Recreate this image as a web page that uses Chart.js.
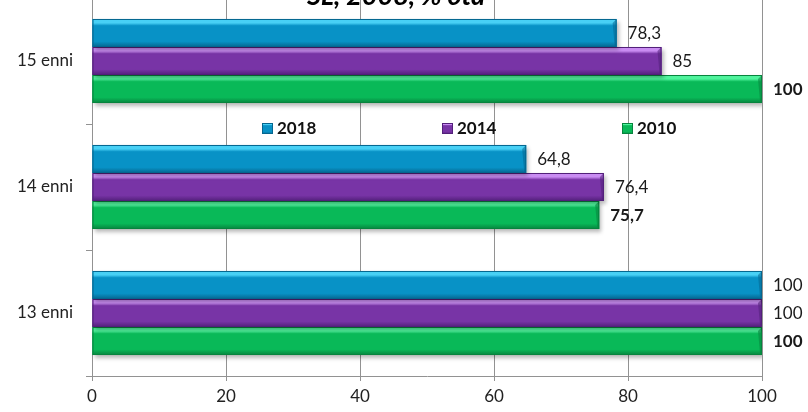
<!DOCTYPE html>
<html>
<head>
<meta charset="utf-8">
<script src="https://cdn.jsdelivr.net/npm/chart.js@4/dist/chart.umd.min.js"></script>
<style>
  html, body { margin: 0; padding: 0; background: #fff; overflow: hidden; }
  #wrap { position: relative; top: -10px; width: 808px; height: 422px; }
</style>
</head>
<body>
<div id="wrap"><canvas id="ageChart"></canvas></div>
<script>
const ages = ["15 enni", "14 enni", "13 enni"];
const years = ["2018", "2014", "2010"];
const values2018 = [78.3, 64.8, 100];
const values2014 = [85, 76.4, 100];
const values2010 = [100, 75.7, 100];
const xTicks = [0, 20, 40, 60, 80, 100];
const titleText = "SL, 2008, % ota";

// light / body / dark tones for the bevelled bars
const palette = [
  { light: "#48d0f5", base: "#0892c6", dark: "#05668f" },
  { light: "#c98cf2", base: "#7834a6", dark: "#52207a" },
  { light: "#4ff39c", base: "#09b958", dark: "#07843e" },
];

const fmt = (v) => String(v).replace(".", ",");
const FONT = "Lato, 'Open Sans', sans-serif";

const makeGradient = (ctx, top, bottom, c) => {
  const g = ctx.createLinearGradient(0, top, 0, bottom);
  g.addColorStop(0, c.light);
  g.addColorStop(0.14, c.light);
  g.addColorStop(0.24, c.base);
  g.addColorStop(0.8, c.base);
  g.addColorStop(1, c.dark);
  return g;
};

// soft shadow under the bars, then a bevel painted over each one
const bevelBars = {
  id: "bevelBars",
  beforeDatasetDraw(chart) {
    const ctx = chart.ctx;
    ctx.save();
    ctx.shadowColor = "rgba(0,0,0,0.28)";
    ctx.shadowBlur = 4;
    ctx.shadowOffsetX = 2;
    ctx.shadowOffsetY = 3;
  },
  afterDatasetDraw(chart, args) {
    const ctx = chart.ctx;
    ctx.restore();
    const c = palette[args.index];
    args.meta.data.forEach((bar) => {
      const p = bar.getProps(["x", "y", "base", "height"], true);
      const top = p.y - p.height / 2;
      const bottom = p.y + p.height / 2;
      const left = Math.min(p.base, p.x);
      const right = Math.max(p.base, p.x);
      ctx.save();
      ctx.fillStyle = makeGradient(ctx, top, bottom, c);
      ctx.fillRect(left, top, right - left, p.height);
      // end cap bevel
      ctx.fillStyle = c.dark;
      ctx.globalAlpha = 0.55;
      ctx.beginPath();
      ctx.moveTo(right - 4, top + 4);
      ctx.lineTo(right, top);
      ctx.lineTo(right, bottom);
      ctx.lineTo(right - 2, bottom - 2);
      ctx.closePath();
      ctx.fill();
      ctx.globalAlpha = 1;
      ctx.strokeStyle = c.dark;
      ctx.lineWidth = 1;
      ctx.strokeRect(left + 0.5, top + 0.5, right - left - 1, p.height - 1);
      ctx.restore();
    });
  },
};

// numbers printed at the end of each bar
const barValues = {
  id: "barValues",
  afterDatasetsDraw(chart) {
    const ctx = chart.ctx;
    ctx.save();
    ctx.textBaseline = "middle";
    ctx.textAlign = "left";
    ctx.fillStyle = "#1a1a1a";
    chart.data.datasets.forEach((ds, i) => {
      ctx.font = (ds.boldValues ? "bold " : "") + "17px " + FONT;
      chart.getDatasetMeta(i).data.forEach((bar, j) => {
        ctx.fillText(fmt(ds.data[j]), bar.x + 11, bar.y + 1);
      });
    });
    ctx.restore();
  },
};

// legend sits inside the plot, between the first two groups
const innerLegend = {
  id: "innerLegend",
  afterDatasetsDraw(chart) {
    const ctx = chart.ctx;
    const area = chart.chartArea;
    const yScale = chart.scales.y;
    const cy = (yScale.getPixelForValue(0) + yScale.getPixelForValue(1)) / 2 + 4;
    ctx.save();
    ctx.font = "bold 17px " + FONT;
    ctx.textBaseline = "middle";
    chart.data.datasets.forEach((ds, i) => {
      const x = area.left + 170 + i * 180;
      const c = palette[i];
      ctx.fillStyle = makeGradient(ctx, cy - 5, cy + 6, c);
      ctx.fillRect(x, cy - 5, 11, 11);
      ctx.strokeStyle = c.dark;
      ctx.strokeRect(x + 0.5, cy - 4.5, 10, 10);
      ctx.fillStyle = "#111";
      ctx.fillText(ds.label, x + 15, cy + 1);
    });
    ctx.restore();
  },
};

// heading that runs off the top edge
const topTitle = {
  id: "topTitle",
  afterDraw(chart) {
    const ctx = chart.ctx;
    ctx.save();
    ctx.font = "italic bold 27px " + FONT;
    ctx.textAlign = "center";
    ctx.textBaseline = "alphabetic";
    ctx.fillStyle = "#000";
    ctx.fillText(titleText, chart.width / 2 - 8, chart.chartArea.top + 7);
    ctx.restore();
  },
};

const seriesValues = [values2018, values2014, values2010];
const datasets = years.map((year, i) => ({
  label: year,
  data: seriesValues[i],
  backgroundColor: palette[i].base,
  borderWidth: 0,
  boldValues: year === "2010",
}));

new Chart(document.getElementById("ageChart"), {
  type: "bar",
  data: { labels: ages, datasets: datasets },
  options: {
    indexAxis: "y",
    responsive: true,
    maintainAspectRatio: false,
    animation: false,
    layout: { padding: { top: 8, right: 46, left: 0, bottom: 0 } },
    datasets: {
      bar: { categoryPercentage: 0.667, barPercentage: 1.0 },
    },
    plugins: {
      legend: { display: false },
      title: { display: false },
      tooltip: { enabled: false },
    },
    scales: {
      x: {
        min: 0,
        max: 100,
        afterBuildTicks: (scale) => {
          scale.ticks = xTicks.map((v) => ({ value: v }));
        },
        afterFit: (scale) => {
          scale.height = 36;
        },
        grid: { color: "#929292", lineWidth: 1, tickLength: 5 },
        border: { color: "#929292" },
        ticks: {
          padding: 5,
          color: "#222",
          font: { family: FONT, size: 17 },
        },
      },
      y: {
        afterFit: (scale) => {
          scale.width = 92;
          scale.paddingTop = 0;
          scale.paddingBottom = 0;
        },
        grid: {
          drawOnChartArea: false,
          offset: true,
          color: "#929292",
          tickLength: 6,
        },
        border: { color: "#929292" },
        ticks: {
          padding: 13,
          color: "#222",
          font: { family: FONT, size: 17 },
        },
      },
    },
  },
  plugins: [bevelBars, barValues, innerLegend, topTitle],
});
</script>
</body>
</html>
